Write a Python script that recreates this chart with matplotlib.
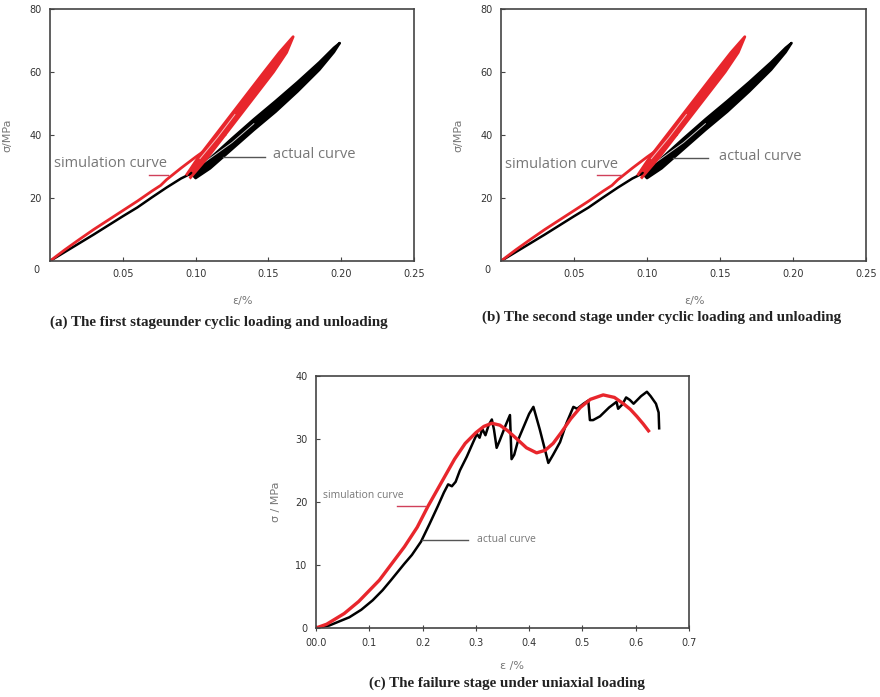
import numpy as np
import matplotlib.pyplot as plt

# ---------------- data ----------------
# stages (a) and (b): monotonic start + band of loading/unloading cycles
act_init_eps = [0, 0.01, 0.02, 0.03, 0.04, 0.05, 0.06, 0.07, 0.08, 0.09, 0.097]
act_init_sig = [0, 2.8, 5.6, 8.4, 11.3, 14.2, 17.0, 20.2, 23.3, 26.2, 27.8]

act_load_eps = [0.097, 0.100, 0.110, 0.125, 0.140, 0.155, 0.170, 0.185, 0.195, 0.199]
act_load_sig = [27.8, 26.3, 29.4, 35.5, 41.6, 47.4, 53.8, 60.7, 66.3, 69.2]
act_unld_eps = [0.199, 0.195, 0.185, 0.170, 0.155, 0.140, 0.125, 0.110, 0.099]
act_unld_sig = [69.2, 67.7, 63.1, 56.8, 50.8, 45.0, 38.9, 32.6, 27.4]

sim_init_eps = [0, 0.01, 0.02, 0.03, 0.04, 0.05, 0.06, 0.07, 0.076, 0.08, 0.09, 0.10, 0.11, 0.12]
sim_init_sig = [0, 3.5, 6.8, 10.0, 13.0, 16.0, 19.0, 22.2, 24.0, 25.8, 29.5, 33.0, 36.3, 40.0]

sim_load_eps = [0.0965, 0.1085, 0.1235, 0.1385, 0.1535, 0.1625, 0.167]
sim_load_sig = [26.5, 33.0, 42.0, 51.0, 60.0, 66.2, 71.2]
sim_unld_eps = [0.167, 0.1575, 0.147, 0.132, 0.117, 0.102, 0.094]
sim_unld_sig = [71.2, 66.2, 60.0, 51.0, 42.0, 33.0, 27.5]

# thin light streaks visible inside the bands
act_streak_eps = [0.106, 0.125, 0.140]
act_streak_sig = [31.3, 37.6, 43.6]
sim_streak_eps = [0.103, 0.115, 0.127]
sim_streak_sig = [32.5, 39.2, 46.5]

# stage (c): uniaxial failure
act_c_eps = [0, 0.025, 0.0625, 0.085, 0.1064, 0.125, 0.1408, 0.1658, 0.18, 0.197, 0.213,
             0.2284, 0.24, 0.248, 0.255, 0.262, 0.27, 0.283, 0.295, 0.302, 0.307, 0.312,
             0.318, 0.324, 0.33, 0.334, 0.339, 0.345, 0.356, 0.364, 0.367, 0.372, 0.38,
             0.39, 0.40, 0.408, 0.42, 0.436, 0.445, 0.458, 0.47, 0.483, 0.49, 0.502,
             0.511, 0.514, 0.52, 0.533, 0.55, 0.564, 0.567, 0.575, 0.582, 0.589, 0.596,
             0.61, 0.621, 0.628, 0.638, 0.643, 0.644]
act_c_sig = [0, 0.4, 1.7, 2.9, 4.4, 6.0, 7.6, 10.2, 11.6, 13.7, 16.5,
             19.3, 21.5, 22.8, 22.5, 23.2, 25.0, 27.2, 29.5, 30.8, 30.2, 31.6,
             30.6, 32.2, 33.1, 31.5, 28.6, 29.8, 32.2, 33.8, 26.8, 27.5, 30.0,
             32.0, 34.0, 35.1, 31.5, 26.2, 27.5, 29.5, 32.5, 35.1, 34.8, 35.6,
             36.1, 33.0, 33.0, 33.6, 35.0, 35.9, 34.8, 35.5, 36.6, 36.2, 35.6,
             36.8, 37.5, 36.8, 35.6, 34.2, 31.7]

sim_c_eps = [0, 0.02, 0.053, 0.08, 0.119, 0.166, 0.19, 0.21, 0.238, 0.26, 0.28, 0.30,
             0.315, 0.33, 0.345, 0.36, 0.377, 0.395, 0.414, 0.43, 0.445, 0.46, 0.478,
             0.496, 0.515, 0.539, 0.56, 0.577, 0.59, 0.602, 0.614, 0.624]
sim_c_sig = [0, 0.6, 2.3, 4.2, 7.6, 12.9, 16.0, 19.3, 23.5, 26.8, 29.3, 31.0,
             32.0, 32.5, 32.2, 31.3, 30.0, 28.6, 27.8, 28.2, 29.3, 31.0, 33.2,
             35.0, 36.3, 37.0, 36.6, 35.6, 34.7, 33.6, 32.4, 31.3]

xticks_ab = [0.05, 0.10, 0.15, 0.20, 0.25]
yticks_ab = [20, 40, 60, 80]
xticks_c = [0, 0.1, 0.2, 0.3, 0.4, 0.5, 0.6, 0.7]
xticklabels_c = ['00.0', '0.1', '0.2', '0.3', '0.4', '0.5', '0.6', '0.7']
yticks_c = [0, 10, 20, 30, 40]

captions = ['(a) The first stageunder cyclic loading and unloading',
            '(b) The second stage under cyclic loading and unloading',
            '(c) The failure stage under uniaxial loading']

RED = '#e8262c'
GRAY_TXT = '#777777'
SPINE = '#444444'

fig = plt.figure(figsize=(8.8, 6.97), dpi=100)


def style_axes(ax, fs):
    for s in ax.spines.values():
        s.set_color(SPINE)
        s.set_linewidth(1.2)
    ax.tick_params(direction='in', length=3, width=0.8, colors=SPINE,
                   labelsize=fs, labelcolor='#333333', pad=6)


def cyclic_panel(rect, cap, cap_xy, sim_txt, sim_ptr, act_txt, act_ptr):
    ax = fig.add_axes(rect)
    # actual curve
    ax.fill(act_load_eps + act_unld_eps, act_load_sig + act_unld_sig,
            color='black', lw=0)
    ax.plot(act_load_eps + act_unld_eps, act_load_sig + act_unld_sig,
            color='black', lw=1.8, solid_joinstyle='round')
    ax.plot(act_init_eps, act_init_sig, color='black', lw=1.8)
    ax.plot(act_streak_eps, act_streak_sig, color='white', lw=0.7, alpha=0.8)
    # simulation curve
    ax.fill(sim_load_eps + sim_unld_eps, sim_load_sig + sim_unld_sig,
            color=RED, lw=0)
    ax.plot(sim_load_eps + sim_unld_eps, sim_load_sig + sim_unld_sig,
            color=RED, lw=2.0, solid_joinstyle='round')
    ax.plot(sim_init_eps, sim_init_sig, color=RED, lw=2.0)
    ax.plot(sim_streak_eps, sim_streak_sig, color='white', lw=0.7, alpha=0.7)

    ax.set_xlim(0, 0.25)
    ax.set_ylim(0, 80)
    ax.set_xticks(xticks_ab)
    ax.set_xticklabels(['%.2f' % v for v in xticks_ab])
    ax.set_yticks(yticks_ab)
    style_axes(ax, 7)
    ax.text(-0.03, -0.035, '0', transform=ax.transAxes, ha='right', va='center',
            fontsize=7, color='#333333')
    ax.set_xlabel('ε/%', fontsize=8, color=GRAY_TXT)
    ax.xaxis.set_label_coords(0.53, -0.14)
    ax.set_ylabel('σ/MPa', fontsize=8, color=GRAY_TXT, labelpad=12)

    ax.text(sim_txt[0], sim_txt[1], 'simulation curve', fontsize=10.5,
            family='Open Sans', color=GRAY_TXT, va='center')
    ax.plot(sim_ptr[0], sim_ptr[1], color='#d0405a', lw=1)
    ax.text(act_txt[0], act_txt[1], 'actual curve', fontsize=10.5,
            family='Open Sans', color=GRAY_TXT, va='center')
    ax.plot(act_ptr[0], act_ptr[1], color='#555555', lw=1)

    fig.text(cap_xy[0], cap_xy[1], cap, ha='center', va='center', fontsize=10.8,
             family='Liberation Serif', weight='bold', color='#222222')
    return ax


cyclic_panel([50 / 880, 1 - 261 / 697, 364 / 880, 252 / 697], captions[0],
             (219 / 880, 1 - 322 / 697),
             (0.0025, 31.0), ([0.068, 0.081], [27.4, 27.4]),
             (0.153, 33.8), ([0.119, 0.148], [33.0, 33.0]))
cyclic_panel([501 / 880, 1 - 261 / 697, 365 / 880, 252 / 697], captions[1],
             (662 / 880, 1 - 317 / 697),
             (0.0025, 30.5), ([0.066, 0.082], [27.2, 27.2]),
             (0.149, 33.3), ([0.118, 0.142], [32.8, 32.8]))

# ---------------- stage (c) ----------------
axc = fig.add_axes([316 / 880, 1 - 628 / 697, 373 / 880, 252 / 697])
axc.plot(act_c_eps, act_c_sig, color='black', lw=1.8)
axc.plot(sim_c_eps, sim_c_sig, color=RED, lw=2.4)
axc.set_xlim(0, 0.7)
axc.set_ylim(0, 40)
axc.set_xticks(xticks_c)
axc.set_xticklabels(xticklabels_c)
axc.set_yticks(yticks_c)
style_axes(axc, 7)
axc.tick_params(axis='x', direction='inout', length=4, pad=5)
axc.set_xlabel('ε /%', fontsize=8, color=GRAY_TXT)
axc.xaxis.set_label_coords(0.525, -0.13)
axc.set_ylabel('σ / MPa', fontsize=8, color=GRAY_TXT, labelpad=10)
axc.text(0.0125, 21.0, 'simulation curve', fontsize=7.5, family='Open Sans',
         color=GRAY_TXT, va='center')
axc.plot([0.152, 0.205], [19.4, 19.4], color='#d0405a', lw=1)
axc.text(0.303, 14.1, 'actual curve', fontsize=7.5, family='Open Sans',
         color=GRAY_TXT, va='center')
axc.plot([0.199, 0.285], [13.9, 13.9], color='#555555', lw=1)
fig.text(507 / 880, 1 - 683 / 697, captions[2], ha='center', va='center',
         fontsize=10.8, family='Liberation Serif', weight='bold', color='#222222')

fig.savefig('out.png', dpi=100, facecolor='white')
